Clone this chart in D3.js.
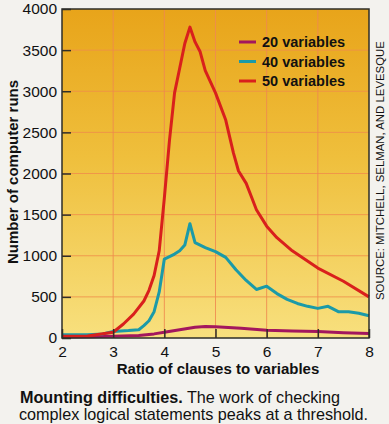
<!DOCTYPE html>
<html><head><meta charset="utf-8">
<script src="https://cdn.jsdelivr.net/npm/d3@7"></script>
<style>html,body{margin:0;padding:0;background:#f3f2ee;}svg{display:block;}</style>
</head><body>
<script>
const xTicks = [2,3,4,5,6,7,8];
const yTicks = [0,500,1000,1500,2000,2500,3000,3500,4000];
const seriesNames = ["20 variables","40 variables","50 variables"];
const seriesColors = ["#a3175e","#1b9aa8","#d9201c"];
const xs20 = [2,2.5,3,3.5,3.8,4,4.3,4.6,4.8,5,5.5,6,6.5,7,7.5,8];
const ys20 = [12,15,20,30,50,70,100,130,140,138,118,95,85,78,65,55];
const xs40 = [2,2.5,2.8,3,3.3,3.5,3.6,3.7,3.8,3.9,4,4.1,4.2,4.3,4.4,4.5,4.6,4.8,5,5.2,5.4,5.6,5.8,6,6.2,6.4,6.6,6.8,7,7.2,7.4,7.6,7.8,8];
const ys40 = [40,40,50,80,90,100,150,210,320,560,960,990,1020,1060,1130,1390,1160,1100,1050,980,830,700,590,630,540,470,420,385,360,385,320,320,300,270];
const xs50 = [2,2.5,3,3.2,3.4,3.6,3.7,3.8,3.9,4,4.1,4.2,4.3,4.4,4.5,4.6,4.7,4.8,5,5.2,5.35,5.45,5.6,5.7,5.8,6,6.2,6.5,7,7.5,8];
const ys50 = [20,25,70,170,290,450,580,760,1060,1700,2400,2980,3280,3580,3780,3600,3480,3250,2980,2650,2250,2030,1880,1720,1560,1360,1220,1060,850,690,500];
const seriesX = [xs20, xs40, xs50];
const seriesY = [ys20, ys40, ys50];

const W = 389, H = 424;
const L = 62, R = 369, T = 9, B = 338;
const FONT = "Liberation Sans, Arial, sans-serif";
const svg = d3.select("body").append("svg").attr("width", W).attr("height", H);
const defs = svg.append("defs");
const g = defs.append("linearGradient").attr("id","bg").attr("x1",0).attr("y1",0).attr("x2",0).attr("y2",1);
g.append("stop").attr("offset","0").attr("stop-color","#e8a41a");
g.append("stop").attr("offset","0.45").attr("stop-color","#efbf3c");
g.append("stop").attr("offset","1").attr("stop-color","#f8e07e");

const x = d3.scaleLinear().domain([2,8]).range([L,R]);
const y = d3.scaleLinear().domain([0,4000]).range([B,T]);

svg.append("rect").attr("x",L).attr("y",T).attr("width",R-L).attr("height",B-T).attr("fill","url(#bg)");

// grid
svg.append("g").selectAll("line").data(yTicks.slice(1,-1)).join("line")
  .attr("x1",L).attr("x2",R).attr("y1",d=>y(d)).attr("y2",d=>y(d))
  .attr("stroke","#f0904a").attr("stroke-width",1).attr("opacity",0.85);
svg.append("g").selectAll("line").data(xTicks.slice(1,-1)).join("line")
  .attr("y1",T).attr("y2",B).attr("x1",d=>x(d)).attr("x2",d=>x(d))
  .attr("stroke","#f08a50").attr("stroke-width",1).attr("opacity",0.85);

// lines
const line = d3.line().x(d=>x(d[0])).y(d=>y(d[1])).curve(d3.curveLinear);
[0,1,2].forEach(i=>{
  const pts = seriesX[i].map((v,j)=>[v, seriesY[i][j]]);
  svg.append("path").datum(pts).attr("d",line).attr("fill","none")
    .attr("stroke",seriesColors[i]).attr("stroke-width",3).attr("stroke-linejoin","round");
});

// frame
svg.append("rect").attr("x",L).attr("y",T).attr("width",R-L).attr("height",B-T)
  .attr("fill","none").attr("stroke","#2e2e28").attr("stroke-width",1.5);

// axes
const yAxis = d3.axisLeft(y).tickValues(yTicks).tickSize(-9).tickPadding(5).tickFormat(d3.format("d"));
const ya = svg.append("g").attr("transform",`translate(${L},0)`).call(yAxis);
ya.select(".domain").remove();
ya.selectAll("line").attr("stroke","#2e2e28").attr("stroke-width",1.5);
ya.selectAll("text").attr("font-family",FONT).attr("font-size",15.5).attr("fill","#111");

const xAxis = d3.axisBottom(x).tickValues(xTicks).tickSize(-9).tickPadding(8).tickFormat(d3.format("d"));
const xa = svg.append("g").attr("transform",`translate(0,${B})`).call(xAxis);
xa.select(".domain").remove();
xa.selectAll("line").attr("stroke","#2e2e28").attr("stroke-width",1.5);
xa.selectAll("text").attr("font-family",FONT).attr("font-size",15.5).attr("fill","#111");

// titles
svg.append("text").attr("transform","translate(18,172) rotate(-90)").attr("text-anchor","middle")
  .attr("font-family",FONT).attr("font-weight","bold").attr("font-size",15).attr("fill","#111")
  .text("Number of computer runs");
svg.append("text").attr("x",218).attr("y",374).attr("text-anchor","middle")
  .attr("font-family",FONT).attr("font-weight","bold").attr("font-size",15).attr("fill","#111")
  .text("Ratio of clauses to variables");

// legend
const lg = svg.append("g");
seriesNames.forEach((n,i)=>{
  const yy = 42 + i*19.5;
  lg.append("line").attr("x1",239).attr("x2",256).attr("y1",yy).attr("y2",yy).attr("stroke",seriesColors[i]).attr("stroke-width",3);
  lg.append("text").attr("x",262).attr("y",yy+5).attr("font-family",FONT)
    .attr("font-weight","bold").attr("font-size",14.5).attr("fill","#111").text(n);
});

// source
svg.append("text").attr("transform","translate(384,300) rotate(-90)").attr("text-anchor","start")
  .attr("font-family",FONT).attr("font-size",11.4).attr("fill","#111")
  .text("SOURCE: MITCHELL, SELMAN, AND LEVESQUE");

// caption
const cap = svg.append("text").attr("font-family",FONT).attr("font-size",16.2).attr("fill","#111");
const t1 = cap.append("tspan").attr("x",20).attr("y",403);
t1.append("tspan").attr("font-weight","bold").text("Mounting difficulties.");
t1.append("tspan").text(" The work of checking");
cap.append("tspan").attr("x",19).attr("y",420).text("complex logical statements peaks at a threshold.");
</script>
</body></html>
